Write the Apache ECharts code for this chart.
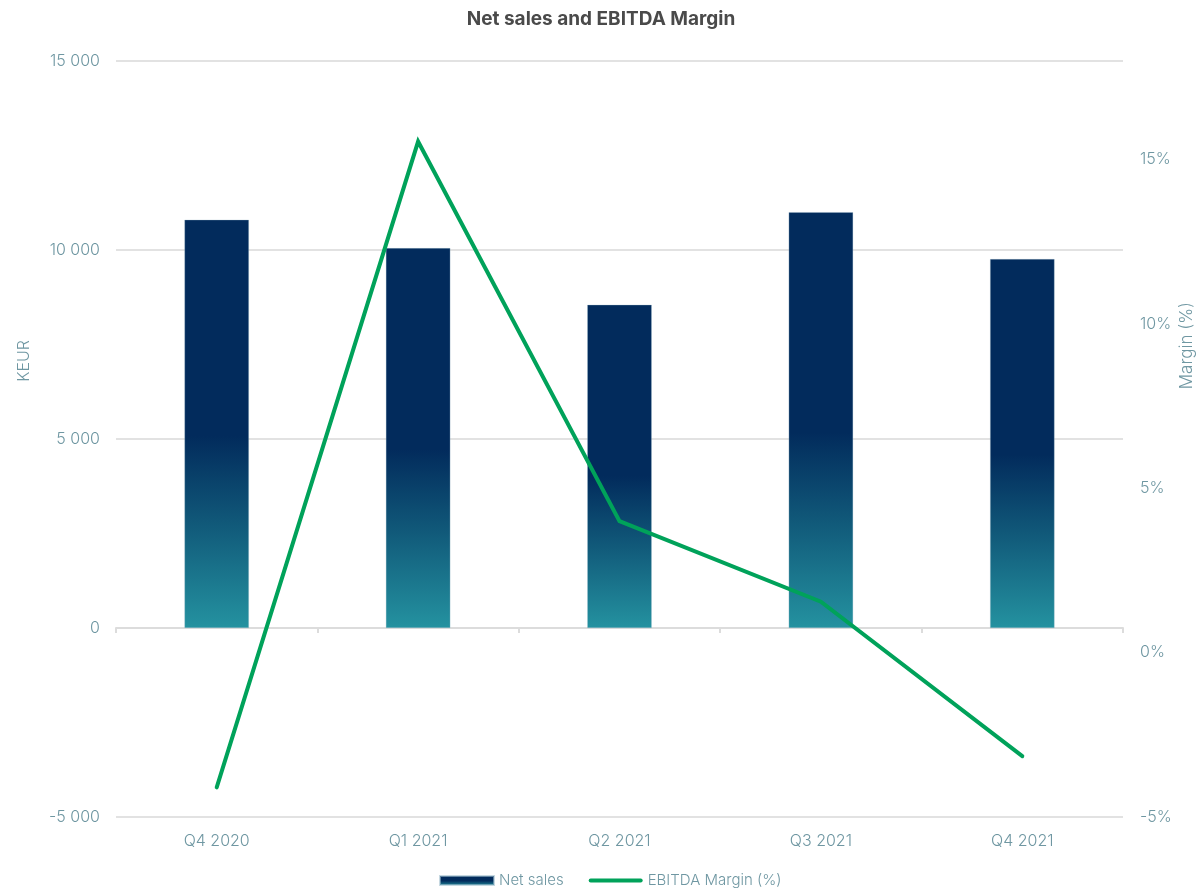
<!DOCTYPE html>
<html>
<head>
<meta charset="utf-8">
<title>Net sales and EBITDA Margin</title>
<script src="https://cdn.jsdelivr.net/npm/echarts@6/dist/echarts.min.js"></script>
<style>
  html, body { margin: 0; padding: 0; background: #ffffff; }
  #chart { width: 1202px; height: 894px; }
</style>
</head>
<body>
<div id="chart"></div>
<script>
// Quarterly figures
const quarters = ['Q4 2020', 'Q1 2021', 'Q2 2021', 'Q3 2021', 'Q4 2021'];
const netSales = [10800, 10050, 8550, 11000, 9760];        // KEUR
const ebitdaMargin = [-4.1, 15.55, 4.0, 1.55, -3.15];      // %

const labelColor = '#6f97a2';
const lineColor = '#00a25a';
const fontFamily = 'Inter, "Open Sans", sans-serif';

const barGradient = new echarts.graphic.LinearGradient(0, 0, 0, 1, [
  { offset: 0, color: '#022b5c' },
  { offset: 0.53, color: '#022b5c' },
  { offset: 0.75, color: '#115a7a' },
  { offset: 1, color: '#2492a0' }
]);

const chart = echarts.init(document.getElementById('chart'), null, { renderer: 'canvas' });

chart.setOption({
  backgroundColor: '#ffffff',
  animation: false,
  textStyle: { fontFamily: fontFamily },
  title: {
    text: 'Net sales and EBITDA Margin',
    left: 'center',
    top: 5,
    textStyle: { fontFamily: fontFamily, fontSize: 19, fontWeight: 'bold', color: '#4a4a4a' }
  },
  legend: {
    bottom: 1,
    left: 434,
    itemWidth: 54,
    itemHeight: 9,
    itemGap: 25,
    textStyle: { fontFamily: fontFamily, fontSize: 15, fontWeight: 300, color: labelColor },
    data: [
      { name: 'Net sales', icon: 'rect' },
      {
        name: 'EBITDA Margin (%)',
        // thin rounded bar inside the 54x9 legend box
        icon: 'path://M0,0M54,9M2,2.5L52,2.5A2,2,0,0,1,52,6.5L2,6.5A2,2,0,0,1,2,2.5Z',
        itemStyle: { color: lineColor }
      }
    ]
  },
  grid: { left: 116, right: 79, top: 61, bottom: 77 },
  graphic: [
    {
      type: 'text',
      left: 16, top: 340,
      rotation: Math.PI / 2,
      style: { text: 'KEUR', fontFamily: fontFamily, fontSize: 16, fontWeight: 300, fill: labelColor }
    },
    {
      type: 'text',
      right: 7, top: 302,
      rotation: Math.PI / 2,
      style: { text: 'Margin (%)', fontFamily: fontFamily, fontSize: 17, fontWeight: 300, fill: labelColor }
    }
  ],
  xAxis: [
    {
      type: 'category',
      data: quarters,
      axisLine: { onZero: true, lineStyle: { color: '#dcdcdc', width: 2 } },
      axisTick: { show: true, length: 5, lineStyle: { color: '#dcdcdc', width: 2 } },
      axisLabel: { show: false }
    },
    {
      type: 'category',
      data: quarters,
      position: 'bottom',
      axisLine: { show: false },
      axisTick: { show: false },
      axisLabel: { margin: 16, fontFamily: fontFamily, fontSize: 16, fontWeight: 300, color: labelColor }
    }
  ],
  yAxis: [
    {
      type: 'value',
      min: -5000, max: 15000, interval: 5000,
      axisLine: { show: false },
      axisTick: { show: false },
      splitLine: { lineStyle: { color: '#e2e2e2', width: 2 } },
      axisLabel: {
        margin: 16,
        fontFamily: fontFamily, fontSize: 16, fontWeight: 300, color: labelColor,
        formatter: v => String(v).replace(/\B(?=(\d{3})+(?!\d))/g, ' ')
      }
    },
    {
      type: 'value',
      min: -5, max: 18, interval: 5,
      position: 'right',
      axisLine: { show: false },
      axisTick: { show: false },
      splitLine: { show: false },
      axisLabel: {
        margin: 17, showMaxLabel: false,
        fontFamily: fontFamily, fontSize: 16, fontWeight: 300, color: labelColor,
        formatter: v => v + '%'
      }
    }
  ],
  series: [
    {
      name: 'Net sales',
      type: 'bar',
      xAxisIndex: 0,
      yAxisIndex: 0,
      data: netSales,
      barWidth: '32%',
      itemStyle: { color: barGradient, borderColor: 'rgba(160,190,205,0.6)', borderWidth: 0.5 }
    },
    {
      name: 'EBITDA Margin (%)',
      type: 'line',
      xAxisIndex: 0,
      yAxisIndex: 1,
      data: ebitdaMargin,
      symbol: 'none',
      lineStyle: { color: lineColor, width: 4, cap: 'round', join: 'miter' },
      itemStyle: { color: lineColor }
    }
  ]
});
</script>
</body>
</html>
